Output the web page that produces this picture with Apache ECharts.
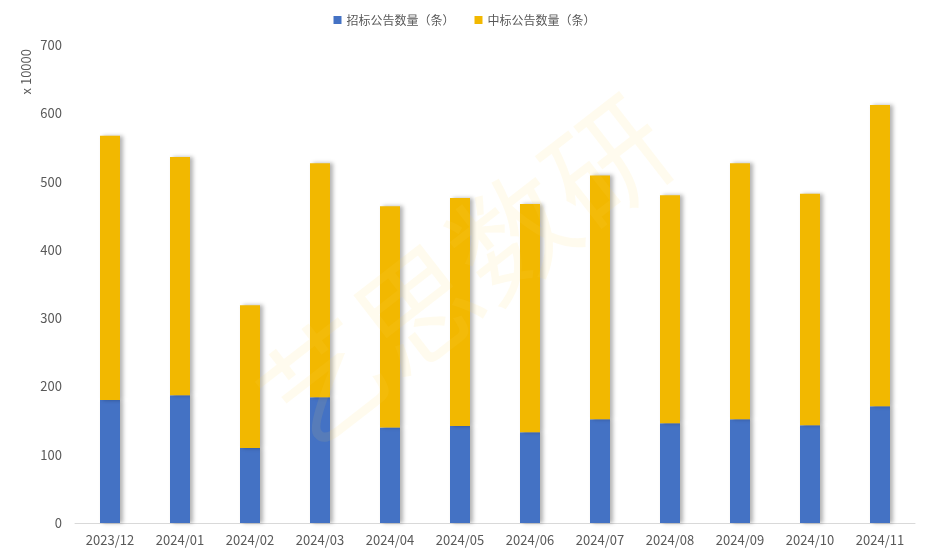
<!DOCTYPE html>
<html>
<head>
<meta charset="utf-8">
<script src="https://cdn.jsdelivr.net/npm/echarts@6/dist/echarts.min.js"></script>
<style>
  html, body { margin: 0; padding: 0; background: #fff; }
  #chart { width: 929px; height: 555px; }
</style>
</head>
<body>
<div id="chart"></div>
<script>
var months = ['2023/12', '2024/01', '2024/02', '2024/03', '2024/04', '2024/05',
              '2024/06', '2024/07', '2024/08', '2024/09', '2024/10', '2024/11'];
// 招标 / 中标, unit: 10000
var bidNotices = [180, 187, 110, 184, 140, 142, 133, 152, 146, 152, 143, 171];
var winNotices = [387, 349, 209, 343, 324, 334, 334, 357, 334, 375, 339, 441];
var seriesNames = ['招标公告数量（条）', '中标公告数量（条）'];

var font = '"Microsoft YaHei", "Noto Sans CJK SC", "Noto Sans", sans-serif';
var myChart = echarts.init(document.getElementById('chart'));

function barSeries(name, data, color) {
    return {
        name: name,
        type: 'bar',
        stack: 'total',
        barWidth: 20,
        data: data,
        itemStyle: {
            color: color,
            shadowColor: 'rgba(0,0,0,0.3)',
            shadowBlur: 4,
            shadowOffsetX: 3,
            shadowOffsetY: 0
        }
    };
}

var option = {
    animation: false,
    textStyle: { fontFamily: font },
    legend: {
        top: 9,
        left: 'center',
        itemWidth: 8,
        itemHeight: 8,
        itemGap: 20,
        icon: 'rect',
        textStyle: { color: '#595959', fontSize: 12, fontFamily: font },
        data: seriesNames
    },
    grid: { left: 75, right: 14, top: 45, bottom: 32 },
    xAxis: {
        type: 'category',
        data: months,
        axisLine: { lineStyle: { color: '#d9d9d9' } },
        axisTick: { show: false },
        axisLabel: { color: '#595959', fontSize: 13, margin: 11 }
    },
    yAxis: {
        type: 'value',
        min: 0,
        max: 700,
        interval: 100,
        splitLine: { show: false },
        axisLine: { show: false },
        axisTick: { show: false },
        axisLabel: { color: '#595959', fontSize: 13, margin: 13 }
    },
    graphic: [
        {
            type: 'text',
            left: 20,
            top: 49,
            rotation: Math.PI / 2,
            style: { text: 'x 10000', fill: '#595959', font: '13px ' + font }
        },
        {
            type: 'text',
            x: 465,
            y: 272,
            rotation: 0.66,
            z: 100,
            style: {
                text: '艺思数研',
                fill: 'rgba(255, 215, 90, 0.1)',
                font: '120px ' + font,
                align: 'center',
                verticalAlign: 'middle'
            }
        }
    ],
    series: [
        barSeries(seriesNames[0], bidNotices, '#4472C4'),
        barSeries(seriesNames[1], winNotices, '#F2B800')
    ]
};
myChart.setOption(option);
</script>
</body>
</html>
